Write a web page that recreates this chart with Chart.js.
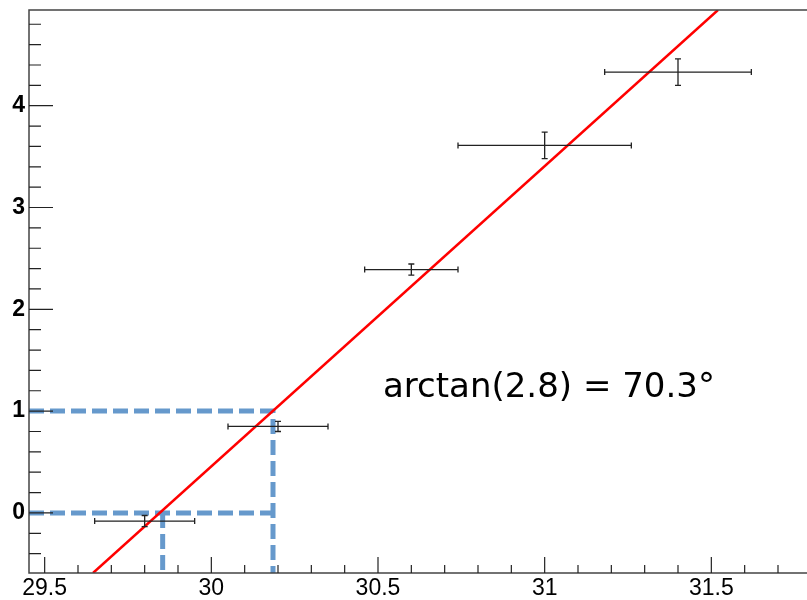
<!DOCTYPE html>
<html lang="en">
<head>
<meta charset="UTF-8" />
<title>arctan(2.8)</title>
<script src="https://cdn.jsdelivr.net/npm/chart.js"></script>
<style>
  body {
    margin: 0;
    background: white;
  }
  .wrap {
    position: relative;
    width: 807px;
    height: 600px;
  }
</style>
</head>
<body>
  <div class="wrap"><canvas id="fitChart"></canvas></div>

  <script>
    // measured points with errors
    const xVals = [29.8, 30.2, 30.6, 31.0, 31.4];
    const yVals = [-0.08, 0.85, 2.39, 3.61, 4.33];
    const xErrs = [0.15, 0.15, 0.14, 0.26, 0.22];
    const yErrs = [0.055, 0.05, 0.055, 0.13, 0.13];

    // fitted line, read where it meets the frame
    const fitX = [29.645, 31.52];
    const fitY = [-0.59, 4.94];

    // dashed read-back lines: y = 0 and y = 1
    const guideY = [0, 1];
    const guideX = [29.854, 30.185];

    const xTicks = [29.5, 30, 30.5, 31, 31.5];
    const yTicks = [0, 1, 2, 3, 4];
    const xRange = [29.453, 31.787];
    const yRange = [-0.59, 4.94];

    const note = 'arctan(2.8) = 70.3°';
    const notePos = [30.515, 1.14];

    const labelFamily = '"Liberation Sans", Arial, Helvetica, sans-serif';

    const guideStyle = {
      type: 'scatter',
      showLine: true,
      borderColor: '#6699cc',
      borderWidth: 5,
      borderDash: [15, 6],
      pointRadius: 0,
      order: 2
    };

    const rootFrame = {
      id: 'rootFrame',
      afterDatasetsDraw(chart) {
        const { ctx, chartArea: a, scales: { x, y } } = chart;
        ctx.save();

        // error bars
        ctx.strokeStyle = '#222';
        ctx.lineWidth = 1.3;
        xVals.forEach((xv, i) => {
          const px = x.getPixelForValue(xv);
          const py = y.getPixelForValue(yVals[i]);
          const x0 = x.getPixelForValue(xv - xErrs[i]);
          const x1 = x.getPixelForValue(xv + xErrs[i]);
          const y0 = y.getPixelForValue(yVals[i] - yErrs[i]);
          const y1 = y.getPixelForValue(yVals[i] + yErrs[i]);
          ctx.beginPath();
          ctx.moveTo(x0, py); ctx.lineTo(x1, py);
          ctx.moveTo(x0, py - 3); ctx.lineTo(x0, py + 3);
          ctx.moveTo(x1, py - 3); ctx.lineTo(x1, py + 3);
          ctx.moveTo(px, y0); ctx.lineTo(px, y1);
          ctx.moveTo(px - 3, y0); ctx.lineTo(px + 3, y0);
          ctx.moveTo(px - 3, y1); ctx.lineTo(px + 3, y1);
          ctx.stroke();
        });

        // frame (right side is cut off)
        ctx.strokeStyle = '#444';
        ctx.lineWidth = 1.5;
        ctx.beginPath();
        ctx.moveTo(a.right, a.top); ctx.lineTo(a.left, a.top);
        ctx.lineTo(a.left, a.bottom); ctx.lineTo(a.right, a.bottom);
        ctx.stroke();

        // ticks pointing inward
        ctx.strokeStyle = '#222';
        ctx.lineWidth = 1.2;
        ctx.beginPath();
        for (let k = -2; k <= 24; k++) {
          const py = y.getPixelForValue(k * 0.2);
          const len = k % 5 === 0 ? 24 : 12;
          ctx.moveTo(a.left, py); ctx.lineTo(a.left + len, py);
        }
        for (let k = 295; k <= 317; k++) {
          const px = x.getPixelForValue(k / 10);
          const len = k % 5 === 0 ? 16 : 8;
          ctx.moveTo(px, a.bottom); ctx.lineTo(px, a.bottom - len);
        }
        ctx.stroke();

        // annotation
        ctx.fillStyle = '#000';
        ctx.font = '34px "DejaVu Sans", sans-serif';
        ctx.textAlign = 'left';
        ctx.textBaseline = 'alphabetic';
        ctx.fillText(note, x.getPixelForValue(notePos[0]), y.getPixelForValue(notePos[1]));

        ctx.restore();
      }
    };

    const ctx = document.getElementById('fitChart').getContext('2d');

    new Chart(ctx, {
      type: 'scatter',
      data: {
        datasets: [
          {
            type: 'scatter',
            showLine: true,
            data: fitX.map((v, i) => ({ x: v, y: fitY[i] })),
            borderColor: '#ff0000',
            borderWidth: 2.5,
            pointRadius: 0,
            order: 1
          },
          Object.assign({}, guideStyle, {
            data: [
              { x: xRange[0], y: guideY[1] },
              { x: guideX[1], y: guideY[1] },
              { x: guideX[1], y: yRange[0] }
            ]
          }),
          Object.assign({}, guideStyle, {
            data: [
              { x: xRange[0], y: guideY[0] },
              { x: guideX[1], y: guideY[0] }
            ]
          }),
          Object.assign({}, guideStyle, {
            data: [
              { x: guideX[0], y: guideY[0] },
              { x: guideX[0], y: yRange[0] }
            ]
          })
        ]
      },
      options: {
        responsive: true,
        maintainAspectRatio: false,
        animation: false,
        events: [],
        layout: { padding: { top: 10, right: 0, left: 0, bottom: 0 } },
        plugins: {
          legend: { display: false },
          tooltip: { enabled: false }
        },
        scales: {
          x: {
            type: 'linear',
            position: 'bottom',
            min: xRange[0],
            max: xRange[1],
            grid: { display: false, drawTicks: false },
            border: { display: false },
            afterBuildTicks: s => { s.ticks = xTicks.map(v => ({ value: v })); },
            afterFit: s => {
              s.height = 27;
              s.paddingLeft = 0;
              s.paddingRight = 0;
            },
            ticks: {
              padding: 2,
              color: '#000',
              font: { family: labelFamily, size: 23 },
              maxRotation: 0,
              autoSkip: false,
              callback: v => String(v)
            }
          },
          y: {
            type: 'linear',
            position: 'left',
            min: yRange[0],
            max: yRange[1],
            grid: { display: false, drawTicks: false },
            border: { display: false },
            afterBuildTicks: s => { s.ticks = yTicks.map(v => ({ value: v })); },
            afterFit: s => {
              s.width = 29;
              s.paddingTop = 0;
              s.paddingBottom = 0;
            },
            ticks: {
              padding: 4,
              color: '#000',
              font: { family: labelFamily, size: 23, weight: 'bold' },
              autoSkip: false,
              callback: v => String(v)
            }
          }
        }
      },
      plugins: [rootFrame]
    });
  </script>
</body>
</html>
